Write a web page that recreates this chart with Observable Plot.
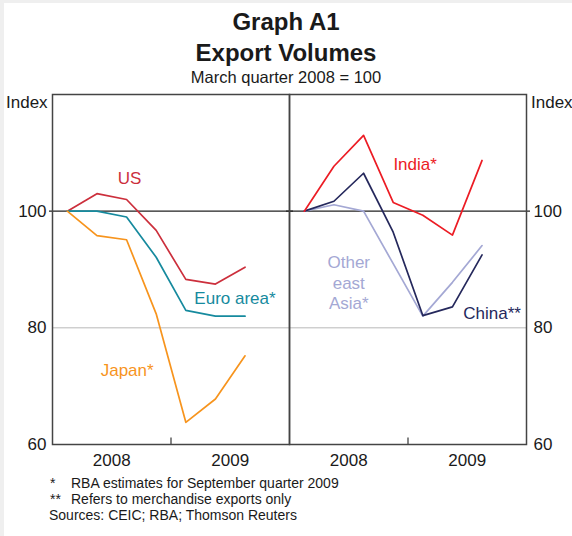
<!DOCTYPE html>
<html>
<head>
<meta charset="utf-8">
<script src="https://cdn.jsdelivr.net/npm/d3@7"></script>
<script src="https://cdn.jsdelivr.net/npm/@observablehq/plot@0.6"></script>
<style>
  body { margin: 0; }
  #page { position: relative; width: 572px; height: 536px; background: #efefef; overflow: hidden;
          font-family: "Liberation Sans", Arial, sans-serif; color: #1a1a1a; }
  #white { position: absolute; left: 4px; top: 3px; right: 0; bottom: 0; background: #fff; }
  .t { position: absolute; white-space: nowrap; line-height: 1; }
  .c { left: 0; width: 572px; text-align: center; }
  #chart { position: absolute; left: 0; top: 88px; }
</style>
</head>
<body>
<div id="page">
  <div id="white"></div>
  <div class="t c" style="top:10px;font-size:24px;font-weight:bold;">Graph A1</div>
  <div class="t c" style="top:41px;font-size:24px;font-weight:bold;">Export Volumes</div>
  <div class="t c" style="top:69px;font-size:16.5px;">March quarter 2008 = 100</div>
  <div class="t" style="top:94px;left:6px;font-size:17px;">Index</div>
  <div class="t" style="top:94px;left:531px;font-size:17px;">Index</div>
  <div id="chart"></div>
  <div class="t" style="top:476px;left:50px;font-size:14px;">*</div>
  <div class="t" style="top:476px;left:71px;font-size:14px;">RBA estimates for September quarter 2009</div>
  <div class="t" style="top:492px;left:50px;font-size:14px;">**</div>
  <div class="t" style="top:492px;left:71px;font-size:14px;">Refers to merchandise exports only</div>
  <div class="t" style="top:508px;left:49px;font-size:14px;">Sources: CEIC; RBA; Thomson Reuters</div>
</div>
<script>
// ---- data ----
const quarters = ["2008-Q1", "2008-Q2", "2008-Q3", "2008-Q4", "2009-Q1", "2009-Q2", "2009-Q3"];
const us        = [100, 103.0, 102.0, 96.7, 88.3, 87.5, 90.4];
const euroArea  = [100, 100.0, 99.0, 92.1, 83.0, 82.0, 82.0];
const japan     = [100, 95.8, 95.1, 82.4, 63.8, 67.8, 75.2];
const india     = [100, 107.7, 113.0, 101.5, 99.3, 95.9, 108.7];
const china     = [100, 101.7, 106.5, 96.4, 82.1, 83.6, 92.5];
const otherAsia = [100, 101.1, 100.0, 91.0, 82.0, 87.8, 94.1];
const yearLabels = [2008, 2009];
const yTicks = [60, 80, 100];

// ---- styles / layout ----
const series = [
  {name: "US", panel: "left", values: us, color: "#cc2f3c", label: "US", lx: 2008.65, ly: 105.8},
  {name: "Euro area", panel: "left", values: euroArea, color: "#168a9e", label: "Euro area*", lx: 2009.54, ly: 85.2},
  {name: "Japan", panel: "left", values: japan, color: "#f7941d", label: "Japan*", lx: 2008.63, ly: 72.8},
  {name: "Other east Asia", panel: "right", values: otherAsia, color: "#a4a8d4", label: "Other\neast\nAsia*", lx: 2008.50, ly: 87.85},
  {name: "China", panel: "right", values: china, color: "#25285c", label: "China**", lx: 2009.71, ly: 82.7},
  {name: "India", panel: "right", values: india, color: "#ec1c24", label: "India*", lx: 2009.06, ly: 108.2}
];

const qpos = q => { const [yr, n] = q.split("-Q"); return +yr + (+n - 0.5) / 4; };

const rows = series.flatMap(s => s.values.map((v, i) => ({
  panel: s.panel, series: s.name, color: s.color, t: qpos(quarters[i]), v
})));
const labelRows = series.map(s => ({panel: s.panel, text: s.label, color: s.color, t: s.lx, v: s.ly}));

const chart = Plot.plot({
  width: 572,
  height: 382,
  marginLeft: 52,
  marginRight: 46,
  marginTop: 6,
  marginBottom: 26,
  fx: {domain: ["left", "right"], padding: 0, axis: null},
  x: {domain: [2008, 2010]},
  y: {domain: [60, 120]},
  color: {type: "identity"},
  style: {fontFamily: "'Liberation Sans', Arial, sans-serif", fontSize: "17px", color: "#1a1a1a", background: "transparent", overflow: "visible"},
  marks: [
    Plot.ruleY([80], {stroke: "#b8b8b8", strokeWidth: 1}),
    Plot.ruleY([100], {stroke: "#222", strokeWidth: 1.3, insetLeft: -3, insetRight: -4}),
    Plot.line(rows, {fx: "panel", x: "t", y: "v", z: "series", stroke: "color", strokeWidth: 1.7}),
    Plot.text(labelRows, {fx: "panel", x: "t", y: "v", text: "text", fill: "color", fontSize: 17, lineHeight: 1.2}),
    Plot.frame({stroke: "#444", strokeWidth: 1.5}),
    Plot.ruleX([2009], {y1: 60, y2: 61.1, stroke: "#444", strokeWidth: 1.3}),
    Plot.axisX({ticks: yearLabels.map(y => y + 0.5), tickSize: 0, tickPadding: 9, tickFormat: d => String(Math.floor(d)), label: null, fontSize: 17}),
    Plot.axisY({anchor: "left", ticks: yTicks, tickSize: 0, tickPadding: 6, label: null, fontSize: 17}),
    Plot.axisY({anchor: "right", ticks: yTicks, tickSize: 0, tickPadding: 7, label: null, fontSize: 17})
  ]
});
document.getElementById("chart").appendChild(chart);
</script>
</body>
</html>
